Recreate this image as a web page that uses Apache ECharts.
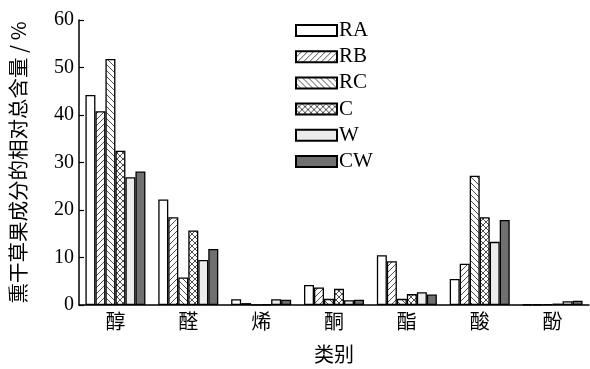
<!DOCTYPE html>
<html><head><meta charset="utf-8">
<script src="https://cdn.jsdelivr.net/npm/echarts@6/dist/echarts.min.js"></script>
<style>html,body{margin:0;padding:0;background:#fff}#c{width:590px;height:369px}</style>
</head><body><div id="c"></div>
<script>
const categories = ['醇','醛','烯','酮','酯','酸','酚'];
const seriesNames = ['RA','RB','RC','C','W','CW'];
const RA = [44.2, 22.2, 1.2, 4.2, 10.5, 5.5, 0.1];
const RB = [40.8, 18.5, 0.4, 3.7, 9.2, 8.7, 0.1];
const RC = [51.8, 5.8, 0.05, 1.3, 1.3, 27.2, 0.2];
const C  = [32.5, 15.7, 0.1, 3.4, 2.3, 18.5, 0.3];
const W  = [26.9, 9.5, 1.2, 1.0, 2.7, 13.3, 0.8];
const CW = [28.1, 11.8, 1.1, 1.1, 2.2, 17.9, 0.9];
const yTicks = [0,10,20,30,40,50,60];

function pat(type){
  const s = 6;
  const cv = document.createElement('canvas');
  cv.width = s; cv.height = s;
  const g = cv.getContext('2d');
  g.fillStyle = '#fff'; g.fillRect(0,0,s,s);
  g.strokeStyle = '#222'; g.lineWidth = 0.8;
  function fw(){ g.beginPath(); g.moveTo(-1,s+1); g.lineTo(s+1,-1); g.moveTo(-1,1); g.lineTo(1,-1); g.moveTo(s-1,s+1); g.lineTo(s+1,s-1); g.stroke(); }
  function bw(){ g.beginPath(); g.moveTo(-1,-1); g.lineTo(s+1,s+1); g.moveTo(s-1,-1); g.lineTo(s+1,1); g.moveTo(-1,s-1); g.lineTo(1,s+1); g.stroke(); }
  if(type==='f') fw();
  if(type==='b') bw();
  if(type==='x'){ fw(); bw(); }
  return {image: cv, repeat: 'repeat'};
}
const fills = ['#ffffff', pat('f'), pat('b'), pat('x'), '#ececec', '#707070'];
const datas = [RA, RB, RC, C, W, CW];

const serif = 'Liberation Serif';
const cjk = 'Noto Sans CJK SC';
const chart = echarts.init(document.getElementById('c'));
chart.setOption({
  animation: false,
  backgroundColor: '#fff',
  grid: {left: 79, top: 20, width: 510, height: 285, containLabel: false, outerBoundsMode: 'none'},
  legend: {
    orient: 'vertical', left: 290, top: 15,
    itemWidth: 41, itemHeight: 11, itemGap: 5.2,
    icon: 'rect',
    data: seriesNames,
    textStyle: {fontFamily: serif, fontSize: 21, lineHeight: 20, color: '#000', padding: [0,0,0,-3]}
  },
  xAxis: {
    type: 'category', data: categories,
    name: '类别', nameLocation: 'middle', nameGap: 39,
    nameTextStyle: {fontFamily: cjk, fontSize: 20, color: '#000'},
    axisLine: {lineStyle: {color: '#000', width: 1.5}},
    axisTick: {show: false},
    axisLabel: {fontFamily: cjk, fontSize: 20, color: '#000', margin: 6}
  },
  yAxis: {
    type: 'value', min: 0, max: 60, interval: 10,
    name: '熏干草果成分的相对总含量 / %', nameLocation: 'middle', nameGap: 51,
    nameTextStyle: {fontFamily: cjk, fontSize: 20.5, color: '#000'},
    axisLine: {show: true, lineStyle: {color: '#000', width: 1.5}},
    axisTick: {show: true, inside: true, length: 5, lineStyle: {color: '#000', width: 1.2}},
    splitLine: {show: false},
    axisLabel: {fontFamily: serif, fontSize: 20, color: '#000', margin: 5}
  },
  series: seriesNames.map((n,i)=>({
    name: n, type: 'bar', data: datas[i],
    barWidth: 10, barGap: '0%',
    itemStyle: {color: fills[i], borderColor: '#000', borderWidth: 1.3}
  }))
});
</script></body></html>
